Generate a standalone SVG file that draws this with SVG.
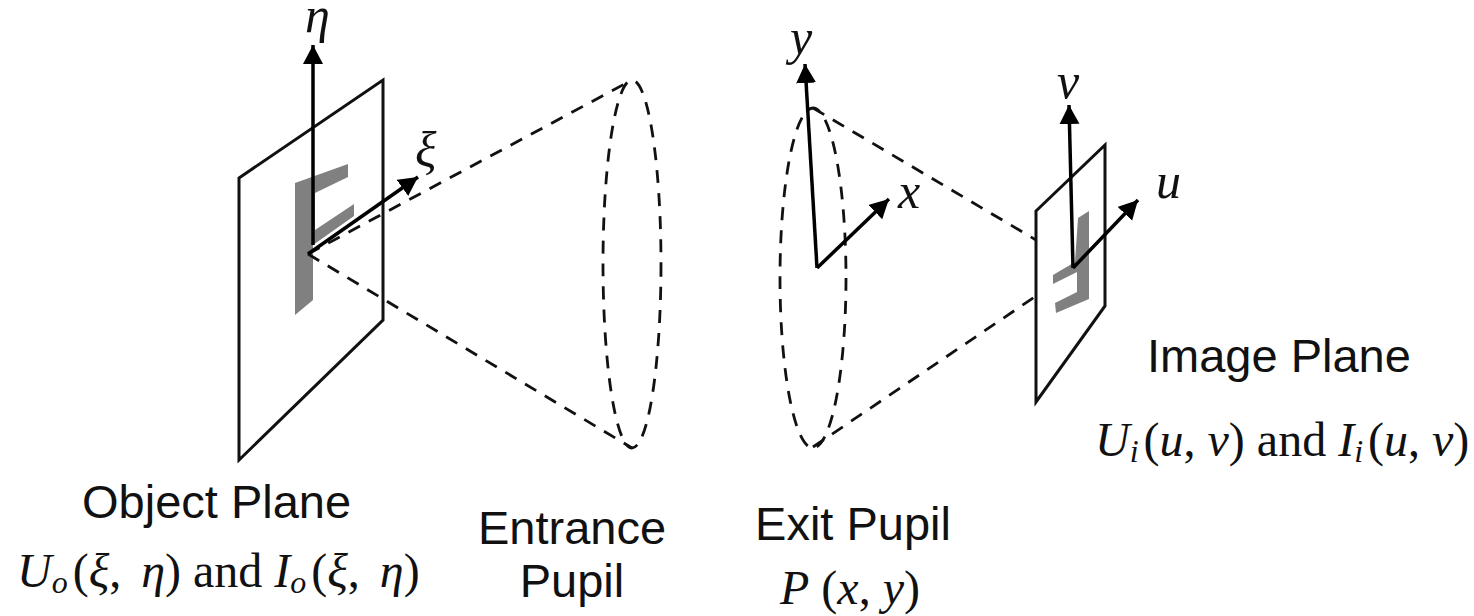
<svg xmlns="http://www.w3.org/2000/svg" width="1474" height="616" viewBox="0 0 1474 616">
<style>
.plane{fill:none;stroke:#111;stroke-width:3;stroke-linejoin:miter}
.dash{fill:none;stroke:#111;stroke-width:2.8;stroke-dasharray:13 10}
.axis{fill:none;stroke:#000;stroke-width:3.5}
.glyph{fill:#808080;stroke:none}
.lab{font-family:"Liberation Sans",Arial,sans-serif;font-size:47px;fill:#111}
.math{font-family:"Liberation Serif","Times New Roman",serif;font-size:48px;fill:#111}
.i{font-style:italic}
.sub{font-style:italic;font-size:32px}
.ax{font-size:50px}
</style>
<defs><marker id="ah" markerUnits="userSpaceOnUse" markerWidth="22" markerHeight="22" refX="19" refY="10" orient="auto"><path d="M0 0L19 10L0 20Z" fill="#000"/></marker></defs>
<g id="object-plane">
<polygon class="plane" points="239,178 383,80 383,320 239,460"/>
<polygon class="glyph" points="295,183 348,164 348,177 315,193 315,230 354,204 354,216 313,245 313,300 295,315"/>
<text class="lab" x="82" y="518">Object Plane</text>
<text class="math" x="17" y="587"><tspan class="i">U</tspan><tspan class="sub" dy="6">o</tspan><tspan dy="-6" dx="5">(</tspan><tspan class="i">ξ</tspan>,<tspan class="i" dx="20">η</tspan>) and <tspan class="i">I</tspan><tspan class="sub" dy="6">o</tspan><tspan dy="-6" dx="5">(</tspan><tspan class="i">ξ</tspan>,<tspan class="i" dx="20">η</tspan>)</text>
</g>
<g id="entrance-pupil">
<ellipse class="dash" cx="632" cy="264" rx="29" ry="184"/>
<text class="lab" x="572" y="544" text-anchor="middle">Entrance</text>
<text class="lab" x="572" y="597" text-anchor="middle">Pupil</text>
</g>
<g id="exit-pupil">
<ellipse class="dash" cx="813" cy="278" rx="33" ry="170"/>
<text class="lab" x="853" y="540" text-anchor="middle">Exit Pupil</text>
<text class="math" x="780" y="604"><tspan class="i">P</tspan> (<tspan class="i">x</tspan>, <tspan class="i">y</tspan>)</text>
</g>
<g id="image-plane">
<polygon class="plane" points="1036,211 1105,145 1105,306 1036,402"/>
<polygon class="glyph" points="1078,218 1089,211 1089,299 1056,313 1055,303 1077,292 1077,272 1053,284 1053,275 1075,262"/>
<text class="lab" x="1147" y="372">Image Plane</text>
<text class="math" x="1095" y="456"><tspan class="i">U</tspan><tspan class="sub" dy="6">i</tspan><tspan dy="-6" dx="5">(</tspan><tspan class="i">u</tspan>, <tspan class="i">v</tspan>) and <tspan class="i">I</tspan><tspan class="sub" dy="6">i</tspan><tspan dy="-6" dx="5">(</tspan><tspan class="i">u</tspan>, <tspan class="i">v</tspan>)</text>
</g>
<g id="connectors">
<path class="dash" d="M308 254L632 80M308 254L632 448M813 108L1036 240M813 447L1036 296"/>
<path class="axis" marker-end="url(#ah)" d="M313 245V45"/>
<path class="axis" marker-end="url(#ah)" d="M308 254L418 177"/>
<path class="axis" marker-end="url(#ah)" d="M817 268L805 64"/>
<path class="axis" marker-end="url(#ah)" d="M817 268L889 199"/>
<path class="axis" marker-end="url(#ah)" d="M1073 268L1069 105"/>
<path class="axis" marker-end="url(#ah)" d="M1073 268L1138 200"/>
</g>
<g id="axis-labels">
<text class="math i ax" x="305" y="32">η</text>
<text class="math i ax" x="415" y="167">ξ</text>
<text class="math i ax" x="790" y="54">y</text>
<text class="math i ax" x="898" y="208">x</text>
<text class="math i ax" x="1057" y="98">v</text>
<text class="math i ax" x="1156" y="198">u</text>
</g>
</svg>
